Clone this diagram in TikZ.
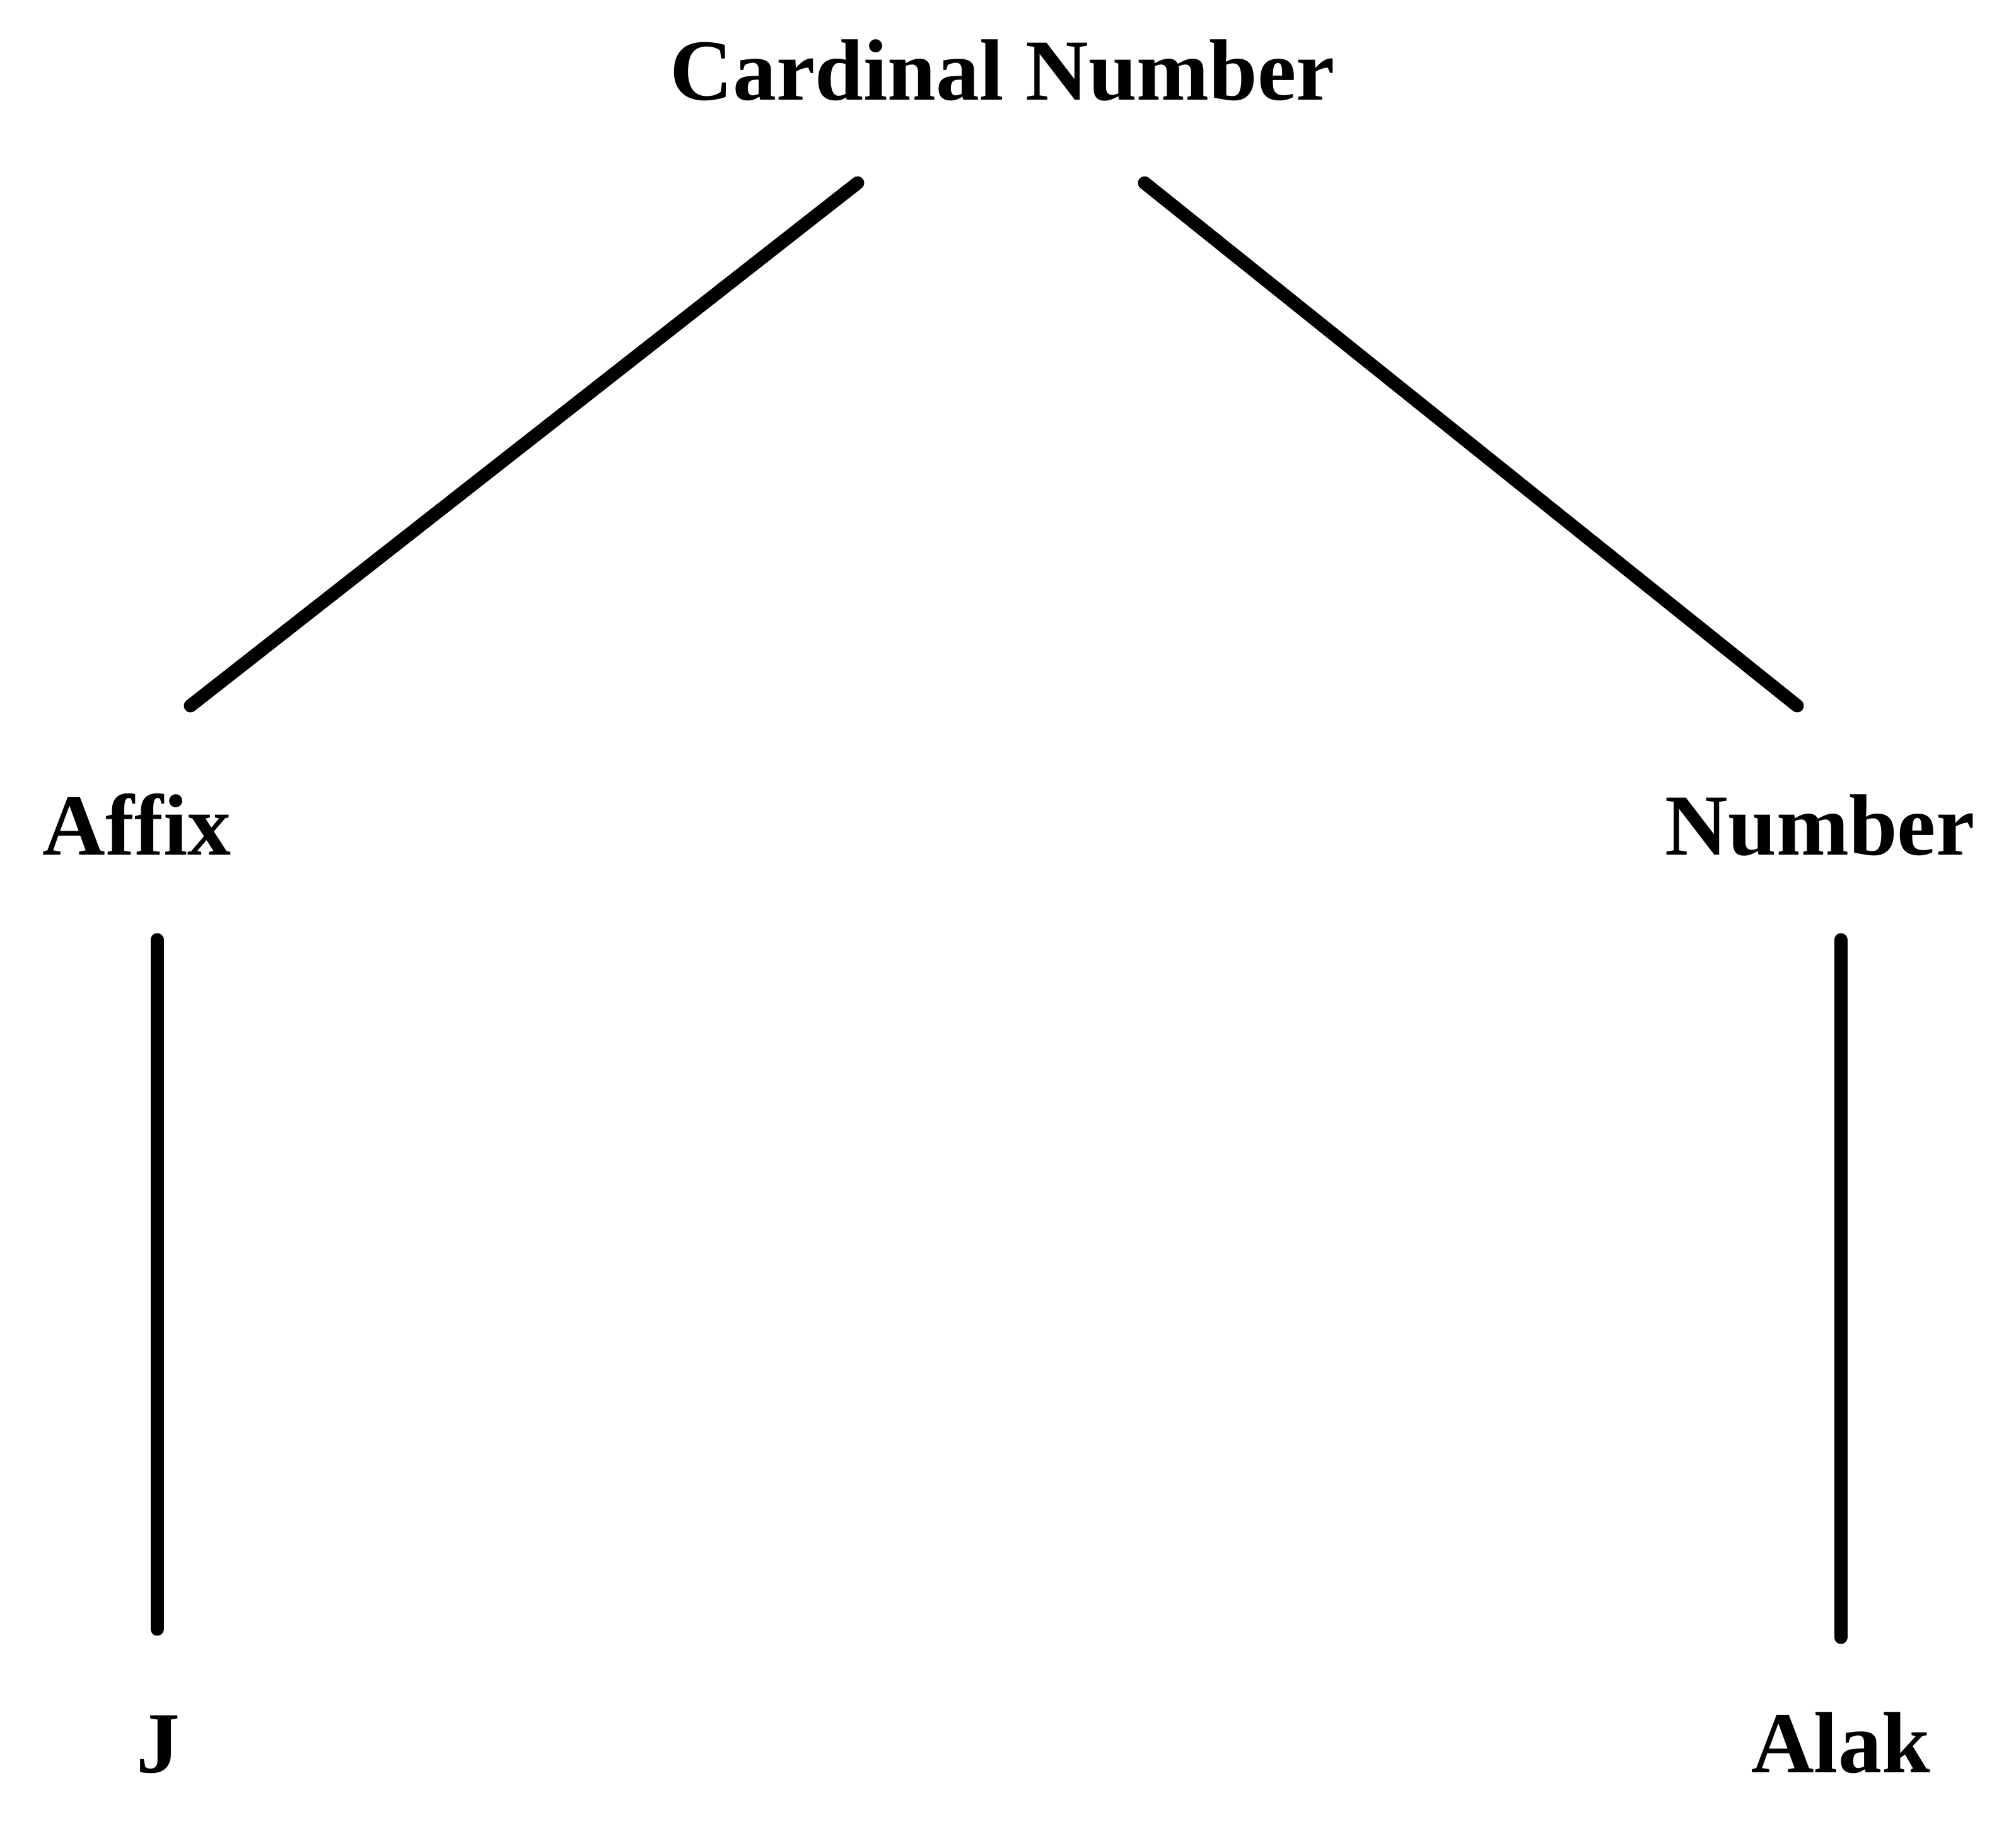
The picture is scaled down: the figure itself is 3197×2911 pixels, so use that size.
\documentclass[tikz,border=0pt]{standalone}
\usepackage{fontspec}
\setmainfont{Liberation Serif}
\begin{document}
\begin{tikzpicture}[x=1pt,y=-1pt,
  lbl/.style={anchor=base,inner sep=0pt,font=\fontsize{138}{160}\selectfont\bfseries},
  edge/.style={line width=21pt,line cap=round}]
\useasboundingbox (0,0) rectangle (3197,2911);
\node[lbl] (card) at (1590,159) {Cardinal Number};
\node[lbl] (affix) at (217,1355) {Affix};
\node[lbl] (num) at (2886,1355) {Number};
\node[lbl] (j) at (251,2810) {J};
\node[lbl] (alak) at (2919,2810) {Alak};
\coordinate (c1) at (1360,290);
\coordinate (a1) at (302,1119);
\coordinate (c2) at (1815,290);
\coordinate (n1) at (2850,1119);
\coordinate (a2) at (249,1490);
\coordinate (j1) at (249,2583);
\coordinate (n2) at (2919,1490);
\coordinate (al1) at (2919,2596);
\draw[edge] (c1) -- (a1);
\draw[edge] (c2) -- (n1);
\draw[edge] (a2) -- (j1);
\draw[edge] (n2) -- (al1);
\end{tikzpicture}
\end{document}
